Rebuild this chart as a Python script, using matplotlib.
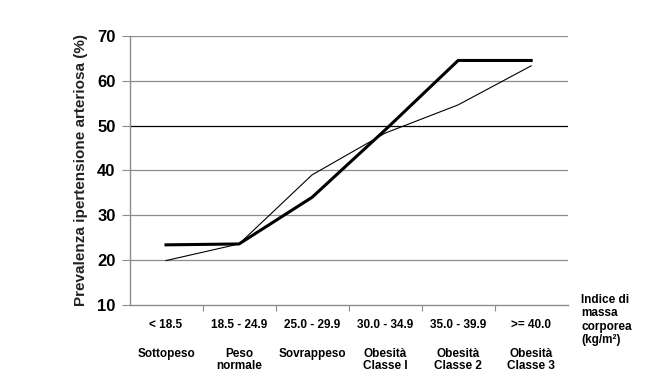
import matplotlib.pyplot as plt
from matplotlib.transforms import blended_transform_factory

plt.rcParams['font.family'] = ['Liberation Sans', 'DejaVu Sans']

ranges = ["< 18.5", "18.5 - 24.9", "25.0 - 29.9", "30.0 - 34.9", "35.0 - 39.9", ">= 40.0"]
classes = ["Sottopeso", "Peso\nnormale", "Sovrappeso", "Obesità\nClasse I", "Obesità\nClasse 2", "Obesità\nClasse 3"]
thick_vals = [23.4, 23.6, 34.0, 49.0, 64.5, 64.5]
thin_vals = [19.9, 23.6, 39.0, 48.3, 54.6, 63.3]
yticks = [10, 20, 30, 40, 50, 60, 70]

fig = plt.figure(figsize=(6.71, 3.89), dpi=100)
ax = fig.add_axes([0.193, 0.216, 0.653, 0.692])

x = list(range(len(ranges)))
for y in yticks[1:]:
    ax.axhline(y, color="black" if y == 50 else "#8c8c8c", lw=0.9, zorder=1)

ax.plot(x, thin_vals, color="black", lw=0.8, zorder=3)
ax.plot(x, thick_vals, color="black", lw=2.2, zorder=4)

ax.set_xlim(-0.5, len(ranges) - 0.5)
ax.set_ylim(10, 70)
ax.set_yticks(yticks)
ax.set_yticklabels([str(v) for v in yticks], fontsize=12, fontweight="bold")
ax.set_xticks([i + 0.5 for i in x[:-1]])
ax.set_xticklabels([])
ax.tick_params(axis="x", direction="out", length=4, color="#8c8c8c")
ax.tick_params(axis="y", direction="out", length=6, color="#8c8c8c", pad=4)

for side in ["top", "right"]:
    ax.spines[side].set_visible(False)
for side in ["left", "bottom"]:
    ax.spines[side].set_color("#8c8c8c")
    ax.spines[side].set_linewidth(1.0)

ax.set_ylabel("Prevalenza ipertensione arteriosa (%)", fontsize=11, fontweight="bold",
              labelpad=7, color="#222222")

tr = blended_transform_factory(ax.transData, fig.transFigure)
for i in x:
    ax.text(i, 1 - 325 / 389, ranges[i], transform=tr, ha="center", va="center",
            fontsize=8.5, fontweight="bold")
    ax.text(i, 1 - 348 / 389, classes[i], transform=tr, ha="center", va="top",
            fontsize=8.5, fontweight="bold", linespacing=1.05)

fig.text(581 / 671, 1 - 294 / 389, "Indice di\nmassa\ncorporea\n(kg/m²)", ha="left", va="top",
         fontsize=8.5, fontweight="bold", linespacing=1.15)

fig.savefig("out.png", dpi=100)
